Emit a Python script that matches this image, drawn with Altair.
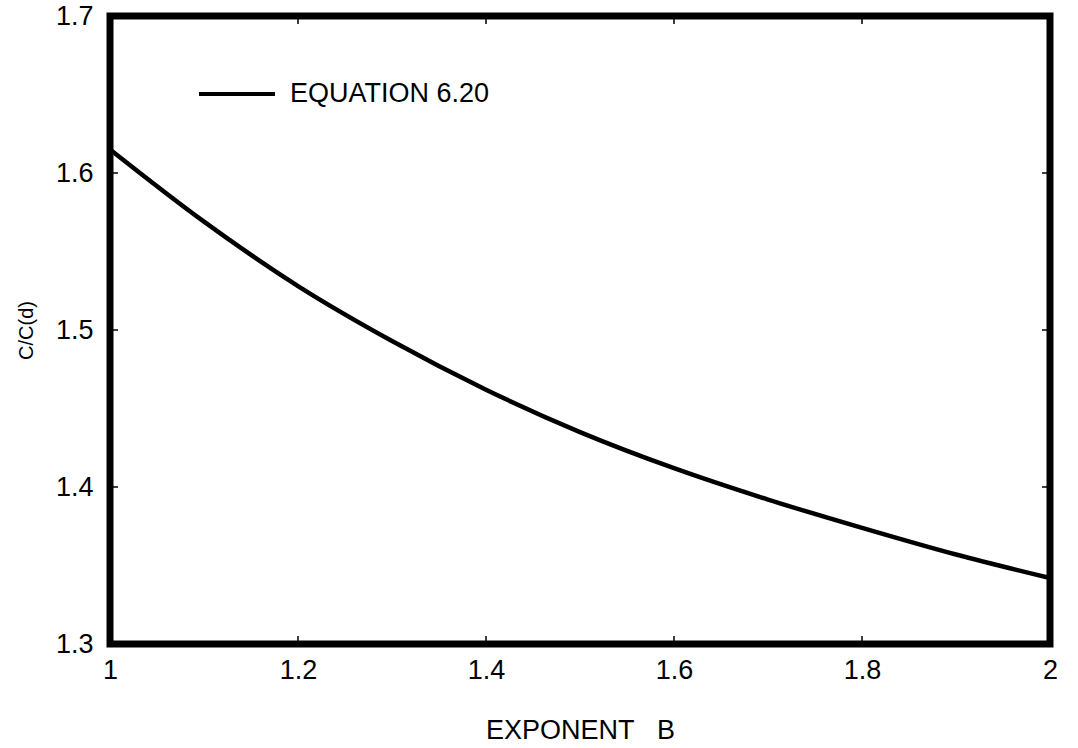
import altair as alt
import pandas as pd

# Ratio C/C(d) against the exponent B (Equation 6.20)
exponent_b = [1.0, 1.1, 1.2, 1.3, 1.4, 1.5, 1.6, 1.7, 1.8, 1.9, 2.0]
ratio = [1.615, 1.569, 1.528, 1.493, 1.462, 1.435, 1.412, 1.392, 1.374, 1.357, 1.342]
series_name = "EQUATION 6.20"

x_ticks = [1.0, 1.2, 1.4, 1.6, 1.8, 2.0]
y_ticks = [1.3, 1.4, 1.5, 1.6, 1.7]

FONT = "Liberation Sans"
W, H = 940, 628

curve = pd.DataFrame({"B": exponent_b, "R": ratio, "series": series_name})
xt = pd.DataFrame({"B": x_ticks[1:-1]})
yt = pd.DataFrame({"R": y_ticks[1:-1]})

x_scale = alt.Scale(domain=[1, 2], nice=False, zero=False)
y_scale = alt.Scale(domain=[1.3, 1.7], nice=False, zero=False)

x_axis = alt.Axis(
    title="EXPONENT\u00a0\u00a0\u00a0B", values=x_ticks, format="~g",
    ticks=False, domain=False, grid=False, labelFlush=False,
    labelFontSize=27, labelPadding=13, titleFontSize=27,
    titleFontWeight="normal", titlePadding=34,
)
y_axis = alt.Axis(
    title="C/C(d)", values=y_ticks, format="~g",
    ticks=False, domain=False, grid=False, labelFlush=False,
    labelFontSize=27, labelPadding=17, titleFontSize=20,
    titleFontWeight="normal", titlePadding=19,
)

line = alt.Chart(curve).mark_line(
    color="black", strokeWidth=4.5, interpolate="monotone"
).encode(
    x=alt.X("B:Q", scale=x_scale, axis=x_axis),
    y=alt.Y("R:Q", scale=y_scale, axis=y_axis),
    color=alt.Color(
        "series:N",
        scale=alt.Scale(domain=[series_name], range=["black"]),
        legend=alt.Legend(
            title=None, orient="none", legendX=87, legendY=38,
            symbolType="stroke", symbolSize=5776, symbolStrokeWidth=4,
            symbolStrokeColor="black", labelFontSize=27, labelOffset=13,
            labelFont=FONT, labelLimit=0, padding=0,
        ),
    ),
)

# short inward tick marks on all four sides of the frame
tick_len = 8
bottom_ticks = alt.Chart(xt).mark_rule(color="black", strokeWidth=1.5).encode(
    x=alt.X("B:Q", scale=x_scale), y=alt.value(H), y2=alt.value(H - tick_len)
)
top_ticks = alt.Chart(xt).mark_rule(color="black", strokeWidth=1.5).encode(
    x=alt.X("B:Q", scale=x_scale), y=alt.value(0), y2=alt.value(tick_len)
)
left_ticks = alt.Chart(yt).mark_rule(color="black", strokeWidth=1.5).encode(
    y=alt.Y("R:Q", scale=y_scale), x=alt.value(0), x2=alt.value(tick_len)
)
right_ticks = alt.Chart(yt).mark_rule(color="black", strokeWidth=1.5).encode(
    y=alt.Y("R:Q", scale=y_scale), x=alt.value(W), x2=alt.value(W - tick_len)
)

chart = (
    alt.layer(bottom_ticks, top_ticks, left_ticks, right_ticks, line)
    .properties(
        width=W, height=H,
        autosize=alt.AutoSizeParams(type="none"),
        padding={"left": 110, "top": 16, "right": 28, "bottom": 104},
        background="white",
    )
    .configure_view(stroke="black", strokeWidth=7)
    .configure_axis(labelFont=FONT, titleFont=FONT, labelColor="black", titleColor="black")
    .configure_legend(labelColor="black")
)

chart.save("out.html", embed_options={"renderer": "svg", "actions": False})
